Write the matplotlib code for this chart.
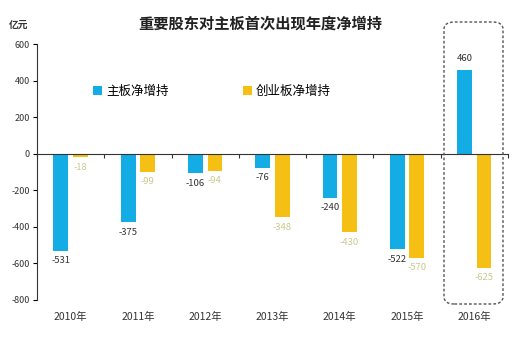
import matplotlib
matplotlib.use("Agg")
import matplotlib.pyplot as plt
import numpy as np
from matplotlib.patches import FancyBboxPatch
import matplotlib.transforms as mtransforms

plt.rcParams['font.family'] = ['Noto Sans CJK SC', 'DejaVu Sans']

years = ['2010年', '2011年', '2012年', '2013年', '2014年', '2015年', '2016年']
main_board = [-531, -375, -106, -76, -240, -522, 460]
gem_board = [-18, -99, -94, -348, -430, -570, -625]
yticks = [600, 400, 200, 0, -200, -400, -600, -800]

blue = '#14ACE4'
orange = '#F6BF14'
gem_label_color = '#C9C98E'

fig = plt.figure(figsize=(5.21, 3.52), dpi=100)
ax = fig.add_axes([0.071, 0.148, 0.904, 0.727])

x = np.arange(len(years))
w = 0.22
off = 0.145
ax.bar(x - off, main_board, w, color=blue, label='主板净增持')
ax.bar(x + off, gem_board, w, color=orange, label='创业板净增持')

for xi, v in zip(x, main_board):
    if v >= 0:
        ax.annotate(f'{v}', (xi - off, v), xytext=(0, 5), textcoords='offset points',
                    ha='center', va='bottom', fontsize=6.8, color='#333333')
    else:
        ax.annotate(f'{v}', (xi - off, v), xytext=(0, -4), textcoords='offset points',
                    ha='center', va='top', fontsize=6.8, color='#333333')
for xi, v in zip(x, gem_board):
    ax.annotate(f'{v}', (xi + off, v), xytext=(0, -4), textcoords='offset points',
                ha='center', va='top', fontsize=6.8, color=gem_label_color)

ax.set_xlim(-0.5, len(years) - 0.5)
ax.set_ylim(-800, 600)
ax.set_yticks(yticks)
ax.set_yticklabels([str(t) for t in yticks], fontsize=6.5, color='#333333')
ax.tick_params(axis='y', direction='out', length=3, width=0.8, pad=2)

ax.spines['top'].set_visible(False)
ax.spines['right'].set_visible(False)
ax.spines['bottom'].set_position(('data', 0))
ax.spines['left'].set_color('#333333')
ax.spines['bottom'].set_color('#333333')

ax.set_xticks(np.arange(len(years) + 1) - 0.5)
ax.set_xticklabels([])
ax.tick_params(axis='x', direction='out', length=3, width=0.8, color='#333333')

trans = mtransforms.blended_transform_factory(ax.transData, fig.transFigure)
for xi, lab in zip(x, years):
    ax.text(xi, 1 - 317 / 352, lab, transform=trans, ha='center', va='center',
            fontsize=7.5, color='#333333')

ax.legend(loc='center left', bbox_to_anchor=(0.096, 0.816), ncol=2, frameon=False,
          fontsize=9, handlelength=0.7, handleheight=0.7, handletextpad=0.3,
          columnspacing=5.95)

fig.text(0.5, 1 - 24 / 352, '重要股东对主板首次出现年度净增持', ha='center', va='center',
         fontsize=11, fontweight='bold', color='#222222')
fig.text(0.016, 1 - 25 / 352, '亿元', ha='left', va='center', fontsize=7,
         fontweight='bold', color='#333333')

box = FancyBboxPatch((444 / 521, 1 - 304 / 352), (503 - 444) / 521, (304 - 22) / 352,
                     boxstyle='round,pad=0,rounding_size=0.02', transform=fig.transFigure,
                     fill=False, linestyle=(0, (2, 1.5)), linewidth=1.0, edgecolor='#555555')
fig.patches.append(box)

fig.savefig('out.png', dpi=100)
